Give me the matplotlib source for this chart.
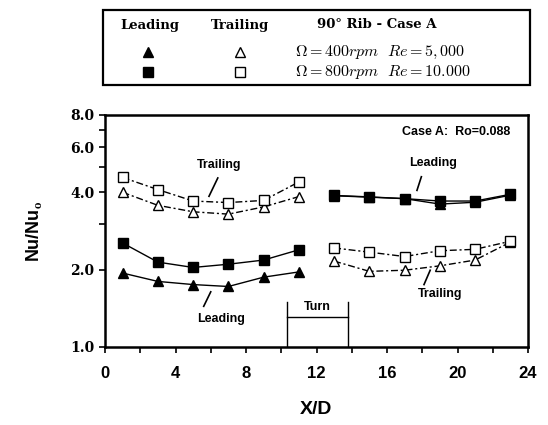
import matplotlib
matplotlib.use("Agg")
import matplotlib.pyplot as plt
from matplotlib.lines import Line2D
from matplotlib.patches import Rectangle
from matplotlib.ticker import FixedLocator, NullFormatter

plt.rcParams["mathtext.fontset"] = "cm"

# data (Nu/Nu0 vs X/D)
x_first = [1, 3, 5, 7, 9, 11]
x_second = [13, 15, 17, 19, 21, 23]

lead_400_first = [1.94, 1.80, 1.75, 1.72, 1.87, 1.96]
lead_800_first = [2.54, 2.14, 2.04, 2.10, 2.18, 2.39]
trail_400_first = [4.00, 3.56, 3.36, 3.29, 3.51, 3.85]
trail_800_first = [4.57, 4.10, 3.70, 3.65, 3.72, 4.39]

lead_400_second = [3.88, 3.83, 3.78, 3.60, 3.66, 3.90]
lead_800_second = [3.89, 3.84, 3.78, 3.70, 3.70, 3.93]
trail_400_second = [2.16, 1.97, 1.99, 2.07, 2.18, 2.56]
trail_800_second = [2.43, 2.34, 2.25, 2.37, 2.40, 2.58]

y_ticks = [1.0, 2.0, 4.0, 6.0, 8.0]
y_minor = [3.0, 5.0, 7.0]
x_ticks = [0, 4, 8, 12, 16, 20, 24]

W, H = 548, 425
fig = plt.figure(figsize=(W / 100, H / 100), dpi=100)
ax = fig.add_axes([105 / W, 1 - 347 / H, 423 / W, 232 / H])

dash = (0, (5, 2, 1.5, 2))
msq = dict(marker="s", markersize=7.5, color="black", lw=1.0)
mtr = dict(marker="^", markersize=7.5, color="black", lw=1.0)

for xs, lead4, lead8, tr4, tr8 in [
    (x_first, lead_400_first, lead_800_first, trail_400_first, trail_800_first),
    (x_second, lead_400_second, lead_800_second, trail_400_second, trail_800_second),
]:
    ax.plot(xs, lead4, ls="-", **mtr)
    ax.plot(xs, lead8, ls="-", **msq)
    ax.plot(xs, tr4, ls=dash, markerfacecolor="white", **mtr)
    ax.plot(xs, tr8, ls=dash, markerfacecolor="white", **msq)

ax.set_yscale("log")
ax.set_xlim(0, 24)
ax.set_ylim(1.0, 8.0)
ax.yaxis.set_major_locator(FixedLocator(y_ticks))
ax.yaxis.set_minor_locator(FixedLocator(y_minor))
ax.yaxis.set_minor_formatter(NullFormatter())
ax.set_yticklabels([f"{v:.1f}" for v in y_ticks], fontweight="bold",
                   family="DejaVu Serif", fontsize=10)
ax.set_xticks(x_ticks)
ax.set_xticks(range(2, 24, 4), minor=True)
ax.set_xticklabels([str(v) for v in x_ticks], fontweight="bold",
                   family="Liberation Sans", fontsize=12)
ax.tick_params(which="both", direction="out", width=1.2, length=4)
ax.tick_params(axis="x", which="both", pad=10)
for s in ax.spines.values():
    s.set_linewidth(1.8)

ax.set_xlabel("X/D", fontweight="bold", family="Liberation Sans", fontsize=14, labelpad=14)
ax.set_ylabel(r"Nu/Nu$_\mathbf{o}$", fontweight="bold", family="Liberation Sans",
              fontsize=13, labelpad=18)

# annotations
lab = dict(fontweight="bold", family="Liberation Sans", fontsize=9, ha="center", va="center")
ax.text(23.0, 6.9, "Case A:  Ro=0.088", ha="right", va="center",
        fontweight="bold", family="Liberation Sans", fontsize=9)
ax.text(6.5, 5.1, "Trailing", **lab)
ax.plot([6.4, 5.9], [4.55, 3.86], color="black", lw=1.2)
ax.text(18.6, 5.2, "Leading", **lab)
ax.plot([17.95, 17.7], [4.6, 4.07], color="black", lw=1.2)
ax.text(19.0, 1.61, "Trailing", **lab)
ax.plot([18.45, 18.1], [1.99, 1.75], color="black", lw=1.2)
ax.text(6.6, 1.29, "Leading", **lab)
ax.plot([6.0, 5.6], [1.64, 1.44], color="black", lw=1.2)

# turn bracket
ax.plot([10.3, 10.3], [1.0, 1.5], color="black", lw=1.0)
ax.plot([13.8, 13.8], [1.0, 1.5], color="black", lw=1.0)
ax.plot([10.3, 13.8], [1.31, 1.31], color="black", lw=1.0)
ax.text(12.05, 1.43, "Turn", **lab)

# legend box at top
fig.add_artist(Rectangle((103 / W, 1 - 85 / H), 427 / W, 75 / H, transform=fig.transFigure,
                         fill=False, lw=1.6, color="black"))
hdr = dict(fontweight="bold", family="DejaVu Serif", fontsize=9.5, ha="center", va="center")
fig.text(150 / W, 1 - 25 / H, "Leading", **hdr)
fig.text(240 / W, 1 - 25 / H, "Trailing", **hdr)
fig.text(377 / W, 1 - 25 / H, "90° Rib - Case A", **hdr)
for yy, mk in [(52, "^"), (72, "s")]:
    fig.add_artist(Line2D([148 / W], [1 - yy / H], marker=mk, markersize=7, color="black",
                          transform=fig.transFigure))
    fig.add_artist(Line2D([240 / W], [1 - yy / H], marker=mk, markersize=7, color="black",
                          markerfacecolor="white", transform=fig.transFigure))
fig.text(295 / W, 1 - 52 / H, r"$\Omega = 400rpm\ \ Re = 5,000$", fontsize=11.5, va="center")
fig.text(295 / W, 1 - 72 / H, r"$\Omega = 800rpm\ \ Re = 10.000$", fontsize=11.5, va="center")

fig.savefig("out.png", dpi=100)
